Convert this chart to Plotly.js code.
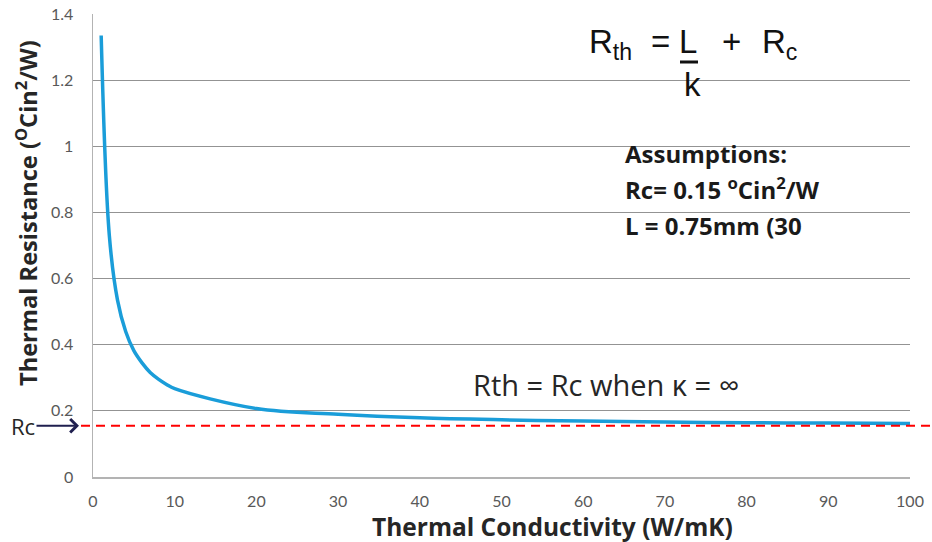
<!DOCTYPE html>
<html>
<head>
<meta charset="utf-8">
<script src="https://cdn.plot.ly/plotly-3.0.1.min.js"></script>
<style>
  html, body { margin: 0; padding: 0; background: #ffffff; }
  #chart { width: 932px; height: 542px; }
</style>
</head>
<body>
<div id="chart"></div>
<script>
// ---- data ----
const conductivity = [1, 2, 3, 4, 5, 6, 7, 8, 9, 10, 20, 30, 40, 50, 60, 70, 80, 90, 100];
const resistance   = [1.335, 0.73, 0.535, 0.44, 0.382, 0.345, 0.316, 0.296, 0.28, 0.267, 0.207, 0.19, 0.179, 0.173, 0.169, 0.166, 0.164, 0.163, 0.162];
const rcLevel = 0.155;
const xTickVals = [0, 10, 20, 30, 40, 50, 60, 70, 80, 90, 100];
const yTickVals = [0, 0.2, 0.4, 0.6, 0.8, 1, 1.2, 1.4];
const yTickText = ['0', '0.2', '0.4', '0.6', '0.8', '1', '1.2', '1.4'];
const xTitle = 'Thermal Conductivity (W/mK)';
const yTitle = 'Thermal Resistance (<sup>O</sup>Cin<sup>2</sup>/W)';
const noteText = 'Rth = Rc when κ = ∞';
const assumptionLines = ['Assumptions:', 'Rc= 0.15 <sup>o</sup>Cin<sup>2</sup>/W', 'L = 0.75mm (30'];

// ---- geometry helpers (pixel -> paper) ----
const W = 932, H = 542;
const M = { l: 93, r: 22, t: 14, b: 65 };
const PW = W - M.l - M.r, PH = H - M.t - M.b;
const px = x => (x - M.l) / PW;
const py = y => (H - M.b - y) / PH;

const tickFamily = 'Lato, "Open Sans", sans-serif';
const textFamily = '"Open Sans", Lato, sans-serif';
const arial = '"Liberation Sans", Arial, sans-serif';

const trace = {
  x: conductivity,
  y: resistance,
  type: 'scatter',
  mode: 'lines',
  line: { color: '#1a9dd9', width: 3.5, shape: 'spline', smoothing: 1 },
  hoverinfo: 'skip',
  showlegend: false
};

const formulaFont = { family: arial, size: 33, color: '#111111' };

const annotations = [
  // axis titles
  { text: '<b>' + xTitle + '</b>', xref: 'paper', yref: 'paper', x: px(552), y: py(526),
    xanchor: 'center', yanchor: 'middle', showarrow: false,
    font: { family: textFamily, size: 24.5, color: '#262626' } },
  { text: '<b>' + yTitle + '</b>', xref: 'paper', yref: 'paper', x: px(26), y: py(213),
    xanchor: 'center', yanchor: 'middle', showarrow: false, textangle: -90,
    font: { family: textFamily, size: 23.6, color: '#262626' } },
  // note
  { text: noteText, xref: 'paper', yref: 'paper', x: px(471), y: py(384),
    xanchor: 'left', yanchor: 'middle', showarrow: false,
    font: { family: textFamily, size: 29, color: '#262626' } },
  // Rc arrow label
  { text: 'Rc', xref: 'paper', yref: 'y', x: px(79), y: rcLevel,
    ax: -56, ay: 0, showarrow: true, arrowhead: 4, arrowsize: 1.3, arrowwidth: 2,
    arrowcolor: '#1f1f4f', standoff: 0,
    font: { family: textFamily, size: 22, color: '#262626' } },
  // formula
  { text: 'R<sub>th</sub>', xref: 'paper', yref: 'paper', x: px(587), y: py(44),
    xanchor: 'left', yanchor: 'middle', showarrow: false, font: formulaFont },
  { text: '=', xref: 'paper', yref: 'paper', x: px(660), y: py(41),
    xanchor: 'center', yanchor: 'middle', showarrow: false, font: formulaFont },
  { text: 'L', xref: 'paper', yref: 'paper', x: px(677), y: py(41),
    xanchor: 'left', yanchor: 'middle', showarrow: false, font: formulaFont },
  { text: '+', xref: 'paper', yref: 'paper', x: px(731), y: py(41),
    xanchor: 'center', yanchor: 'middle', showarrow: false, font: formulaFont },
  { text: 'R<sub>c</sub>', xref: 'paper', yref: 'paper', x: px(760), y: py(44),
    xanchor: 'left', yanchor: 'middle', showarrow: false, font: formulaFont },
  { text: 'k', xref: 'paper', yref: 'paper', x: px(682), y: py(84),
    xanchor: 'left', yanchor: 'middle', showarrow: false, font: formulaFont }
];

// assumptions, one line each
const assumptionY = [153, 188, 225];
assumptionLines.forEach((t, i) => {
  annotations.push({ text: '<b>' + t + '</b>', xref: 'paper', yref: 'paper',
    x: px(623), y: py(assumptionY[i]), xanchor: 'left', yanchor: 'middle', showarrow: false,
    font: { family: textFamily, size: 24, color: '#1a1a1a' } });
});

const shapes = [
  // white box behind assumptions
  { type: 'rect', xref: 'paper', yref: 'paper', x0: px(612), x1: px(868), y0: py(250), y1: py(128),
    fillcolor: '#ffffff', line: { width: 0 }, layer: 'between' },
  // Rc dashed reference line
  { type: 'line', xref: 'paper', yref: 'y', x0: px(81), x1: px(932), y0: rcLevel, y1: rcLevel,
    line: { color: '#ff0000', width: 2.2, dash: '9px,6px' }, layer: 'above' },
  // fraction bar under L
  { type: 'line', xref: 'paper', yref: 'paper', x0: px(680), x1: px(698), y0: py(62), y1: py(62),
    line: { color: '#111111', width: 3 }, layer: 'above' }
];

const layout = {
  width: W, height: H,
  margin: M,
  paper_bgcolor: '#ffffff',
  plot_bgcolor: '#ffffff',
  showlegend: false,
  xaxis: {
    range: [0, 100], tickvals: xTickVals, showgrid: false, zeroline: false,
    showline: true, linecolor: '#b3b3b3', linewidth: 1.5, ticks: '',
    ticklabelstandoff: 9,
    tickfont: { family: tickFamily, size: 16, color: '#595959' }
  },
  yaxis: {
    range: [0, 1.4], tickvals: yTickVals, ticktext: yTickText,
    showgrid: true, gridcolor: '#939393', gridwidth: 1, zeroline: false,
    showline: true, linecolor: '#b3b3b3', linewidth: 1.5, ticks: '',
    ticklabelstandoff: 15,
    tickfont: { family: tickFamily, size: 16, color: '#595959' }
  },
  annotations: annotations,
  shapes: shapes
};

Plotly.newPlot('chart', [trace], layout, { staticPlot: true, displayModeBar: false });
</script>
</body>
</html>
